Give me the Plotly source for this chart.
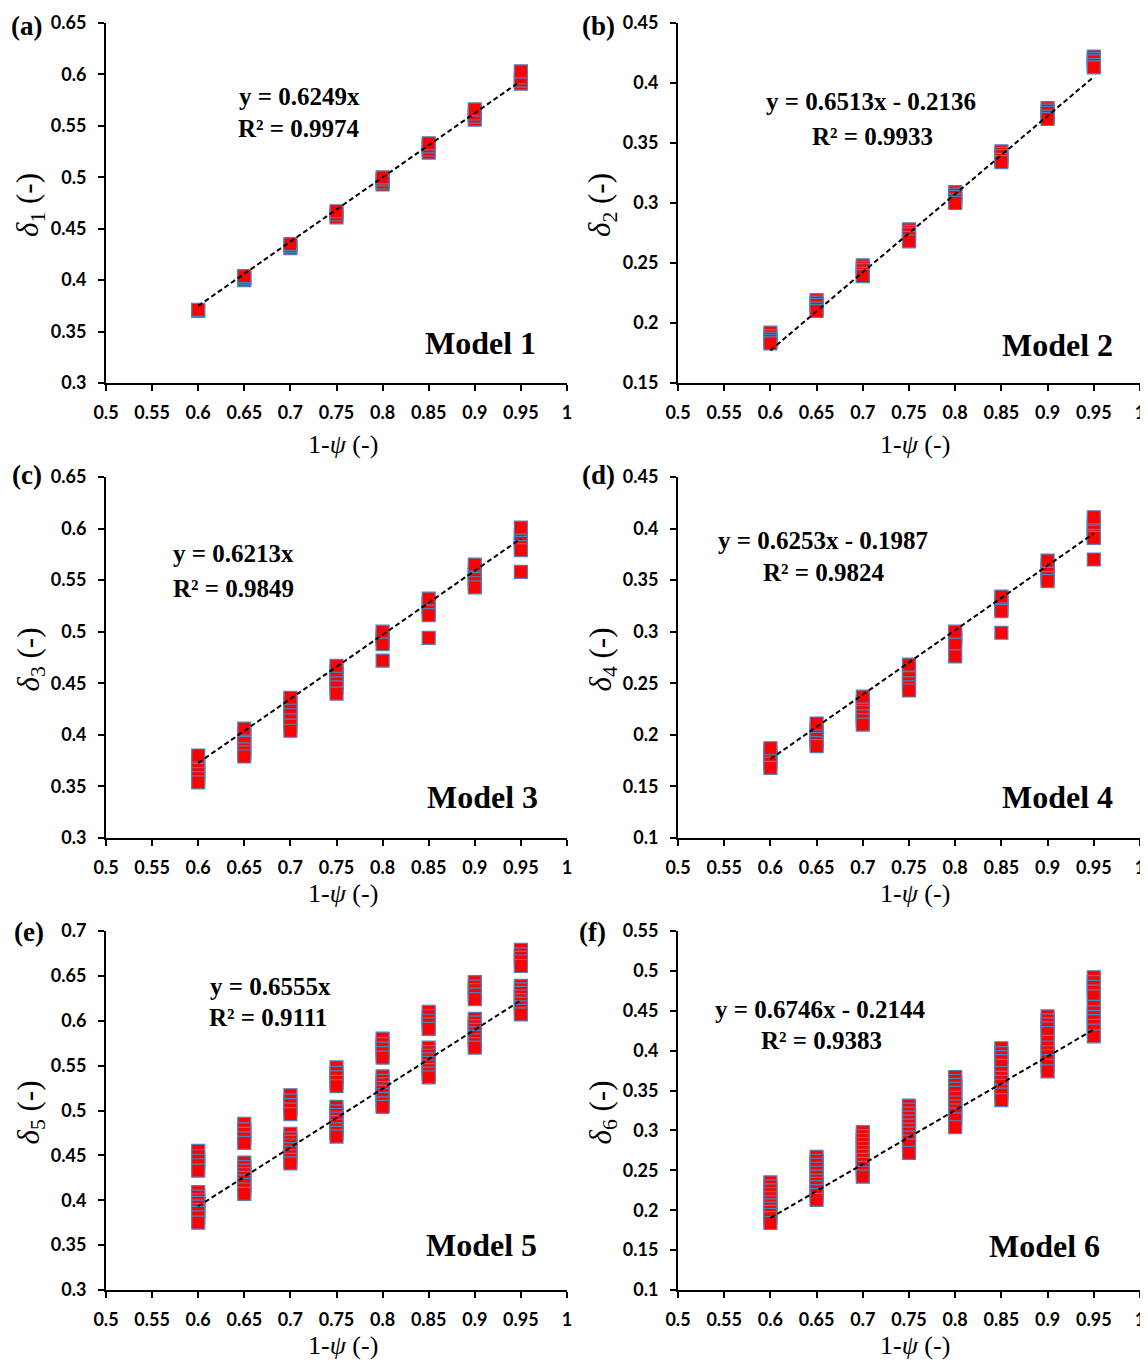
import plotly.graph_objects as go

# page is rendered with an 8px body margin; the figure is sized to fit the window
OFF = 8
W, H = 1148 - OFF, 1363 - OFF

# ---------------- data ----------------
x_levels = [0.6, 0.65, 0.7, 0.75, 0.8, 0.85, 0.9, 0.95]
x_tick_vals = [0.5, 0.55, 0.6, 0.65, 0.7, 0.75, 0.8, 0.85, 0.9, 0.95, 1.0]
x_tick_text = ["0.5", "0.55", "0.6", "0.65", "0.7", "0.75", "0.8", "0.85", "0.9", "0.95", "1"]

# values of delta_i at each x level (drawing order: last one on top)
delta1 = [
    [0.370, 0.371],
    [0.400, 0.402, 0.404],
    [0.431, 0.433, 0.435],
    [0.461, 0.464, 0.467],
    [0.493, 0.495, 0.498, 0.500],
    [0.524, 0.527, 0.530, 0.533],
    [0.556, 0.559, 0.562, 0.566],
    [0.591, 0.594, 0.597, 0.603],
]
delta2 = [
    [0.192, 0.189, 0.187, 0.185, 0.183],
    [0.219, 0.217, 0.215, 0.212, 0.210],
    [0.248, 0.246, 0.244, 0.241, 0.239],
    [0.278, 0.276, 0.274, 0.271, 0.268],
    [0.309, 0.307, 0.305, 0.302, 0.300],
    [0.343, 0.341, 0.339, 0.336, 0.334],
    [0.379, 0.377, 0.375, 0.372, 0.370],
    [0.422, 0.420, 0.418, 0.415, 0.413],
]
delta3 = [
    [0.373, 0.371, 0.366, 0.362, 0.358, 0.354, 0.380],
    [0.401, 0.399, 0.392, 0.386, 0.383, 0.379, 0.406],
    [0.431, 0.428, 0.424, 0.419, 0.414, 0.409, 0.404, 0.436],
    [0.462, 0.459, 0.455, 0.450, 0.446, 0.440, 0.467],
    [0.495, 0.492, 0.488, 0.472, 0.500],
    [0.527, 0.524, 0.520, 0.516, 0.494, 0.532],
    [0.558, 0.555, 0.551, 0.547, 0.543, 0.565],
    [0.594, 0.590, 0.586, 0.582, 0.579, 0.558, 0.601],
]
delta4 = [
    [0.183, 0.178, 0.175, 0.172, 0.168, 0.187],
    [0.205, 0.200, 0.196, 0.192, 0.189, 0.211],
    [0.232, 0.227, 0.222, 0.218, 0.214, 0.210, 0.237],
    [0.263, 0.259, 0.255, 0.250, 0.246, 0.243, 0.268],
    [0.296, 0.292, 0.288, 0.276, 0.300],
    [0.330, 0.326, 0.322, 0.320, 0.299, 0.334],
    [0.364, 0.360, 0.356, 0.352, 0.349, 0.369],
    [0.405, 0.401, 0.397, 0.393, 0.391, 0.370, 0.411],
]
delta5 = [
    [0.455, 0.449, 0.444, 0.439, 0.433, 0.409, 0.404, 0.400, 0.397, 0.393, 0.389, 0.386, 0.381, 0.375],
    [0.485, 0.479, 0.474, 0.469, 0.464, 0.442, 0.437, 0.433, 0.429, 0.425, 0.421, 0.417, 0.412, 0.407],
    [0.517, 0.511, 0.506, 0.501, 0.496, 0.474, 0.469, 0.465, 0.461, 0.457, 0.453, 0.449, 0.445, 0.441],
    [0.548, 0.542, 0.537, 0.532, 0.527, 0.504, 0.499, 0.495, 0.491, 0.487, 0.483, 0.479, 0.475, 0.471],
    [0.580, 0.574, 0.569, 0.564, 0.559, 0.538, 0.533, 0.529, 0.525, 0.521, 0.517, 0.513, 0.508, 0.504],
    [0.610, 0.605, 0.600, 0.596, 0.591, 0.570, 0.565, 0.561, 0.557, 0.553, 0.549, 0.545, 0.541, 0.537],
    [0.643, 0.638, 0.634, 0.629, 0.624, 0.602, 0.598, 0.594, 0.590, 0.586, 0.582, 0.578, 0.574, 0.570],
    [0.679, 0.674, 0.670, 0.666, 0.661, 0.639, 0.635, 0.631, 0.627, 0.623, 0.619, 0.615, 0.611, 0.607],
]
delta6 = [
    [0.235, 0.230, 0.225, 0.220, 0.215, 0.210, 0.206, 0.202, 0.198, 0.194, 0.190, 0.184],
    [0.267, 0.262, 0.257, 0.252, 0.247, 0.242, 0.237, 0.233, 0.229, 0.224, 0.219, 0.213],
    [0.298, 0.293, 0.288, 0.283, 0.278, 0.273, 0.268, 0.263, 0.258, 0.253, 0.247, 0.242],
    [0.331, 0.326, 0.321, 0.316, 0.311, 0.306, 0.301, 0.296, 0.291, 0.286, 0.281, 0.272],
    [0.367, 0.362, 0.357, 0.352, 0.347, 0.341, 0.335, 0.330, 0.325, 0.320, 0.314, 0.304],
    [0.403, 0.397, 0.392, 0.387, 0.381, 0.372, 0.366, 0.361, 0.356, 0.350, 0.345, 0.338],
    [0.443, 0.438, 0.433, 0.428, 0.422, 0.411, 0.404, 0.398, 0.393, 0.387, 0.381, 0.374],
    [0.492, 0.486, 0.480, 0.474, 0.468, 0.455, 0.448, 0.442, 0.437, 0.431, 0.425, 0.418],
]

# trend lines (from the equations printed on the chart)
slopes = [0.6249, 0.6513, 0.6213, 0.6253, 0.6555, 0.6746]
intercepts = [0.0, -0.2136, 0.0, -0.1987, 0.0, -0.2144]
fit_x = [0.6, 0.95]

eq_texts = ["y = 0.6249x", "y = 0.6513x - 0.2136", "y = 0.6213x",
            "y = 0.6253x - 0.1987", "y = 0.6555x", "y = 0.6746x - 0.2144"]
r2_texts = ["R² = 0.9974", "R² = 0.9933", "R² = 0.9849",
            "R² = 0.9824", "R² = 0.9111", "R² = 0.9383"]
model_texts = ["Model 1", "Model 2", "Model 3", "Model 4", "Model 5", "Model 6"]
panel_labels = ["(a)", "(b)", "(c)", "(d)", "(e)", "(f)"]
y_subs = ["1", "2", "3", "4", "5", "6"]

y_ranges = [(0.3, 0.65), (0.15, 0.45), (0.3, 0.65), (0.1, 0.45), (0.3, 0.7), (0.1, 0.55)]
y_tick_vals = [
    [0.3, 0.35, 0.4, 0.45, 0.5, 0.55, 0.6, 0.65],
    [0.15, 0.2, 0.25, 0.3, 0.35, 0.4, 0.45],
    [0.3, 0.35, 0.4, 0.45, 0.5, 0.55, 0.6, 0.65],
    [0.1, 0.15, 0.2, 0.25, 0.3, 0.35, 0.4, 0.45],
    [0.3, 0.35, 0.4, 0.45, 0.5, 0.55, 0.6, 0.65, 0.7],
    [0.1, 0.15, 0.2, 0.25, 0.3, 0.35, 0.4, 0.45, 0.5, 0.55],
]
y_tick_text = [
    ["0.3", "0.35", "0.4", "0.45", "0.5", "0.55", "0.6", "0.65"],
    ["0.15", "0.2", "0.25", "0.3", "0.35", "0.4", "0.45"],
    ["0.3", "0.35", "0.4", "0.45", "0.5", "0.55", "0.6", "0.65"],
    ["0.1", "0.15", "0.2", "0.25", "0.3", "0.35", "0.4", "0.45"],
    ["0.3", "0.35", "0.4", "0.45", "0.5", "0.55", "0.6", "0.65", "0.7"],
    ["0.1", "0.15", "0.2", "0.25", "0.3", "0.35", "0.4", "0.45", "0.5", "0.55"],
]
all_delta = [delta1, delta2, delta3, delta4, delta5, delta6]

# ---------------- layout geometry (screen pixels) ----------------
cols_px = [(106, 567), (678, 1140)]
rows_px = [(23, 383), (477, 838), (931, 1290)]
xtitle_y = [444, 893, 1345]

# text positions (pixel centres) per panel
eq_pos = [(299, 96), (871, 102), (233, 553), (823, 540), (270, 986), (820, 1009)]
r2_pos = [(299, 128), (872, 136), (233, 588), (824, 572), (268, 1017), (821, 1040)]
model_pos = [(480, 343), (1057, 345), (482, 797), (1057, 797), (481, 1245), (1044, 1246)]
label_pos = [(26, 26), (598, 26), (27, 475), (598, 475), (29, 932), (592, 932)]


def fx(p):
    return (p - OFF) / W


def fy_(p):
    return 1 - (p - OFF) / H


fig = go.Figure()
annotations = []
serif = "Liberation Serif"


def add_text(pos, text, size, bold=True, angle=0):
    annotations.append(dict(
        x=fx(pos[0]), y=fy_(pos[1]), xref="paper", yref="paper", text=text,
        showarrow=False, xanchor="center", yanchor="middle", textangle=angle,
        borderpad=0,
        font=dict(family=serif, size=size, color="black",
                  weight="bold" if bold else "normal")))


for i in range(6):
    r, c = divmod(i, 2)
    xa = "x" if i == 0 else f"x{i+1}"
    ya = "y" if i == 0 else f"y{i+1}"
    xs, ys = [], []
    for xv, grp in zip(x_levels, all_delta[i]):
        for v in grp:
            xs.append(xv)
            ys.append(v)
    fig.add_trace(go.Scatter(
        x=xs, y=ys, mode="markers", xaxis=xa, yaxis=ya,
        marker=dict(symbol="square", size=13, color="#FF0000",
                    line=dict(color="#4F81BD", width=1.2)),
        hoverinfo="skip", cliponaxis=False))
    fyv = [slopes[i] * v + intercepts[i] for v in fit_x]
    fig.add_trace(go.Scatter(
        x=fit_x, y=fyv, mode="lines", xaxis=xa, yaxis=ya,
        line=dict(color="black", width=2, dash="5px,3px"),
        hoverinfo="skip"))

    x0, x1 = cols_px[c]
    y0, y1 = rows_px[r]
    axis_common = dict(showline=True, linecolor="black", linewidth=2,
                       ticks="outside", ticklen=6, tickwidth=2, tickcolor="black",
                       showgrid=False, zeroline=False, automargin=False,
                       tickfont=dict(family="Lato", size=18, color="black", weight="bold"))
    xkey = "xaxis" if i == 0 else f"xaxis{i+1}"
    ykey = "yaxis" if i == 0 else f"yaxis{i+1}"
    fig.layout[xkey] = dict(domain=[fx(x0), fx(x1)], range=[0.5, 1.0],
                            tickvals=x_tick_vals, ticktext=x_tick_text,
                            anchor=ya, ticklabelstandoff=6, **axis_common)
    fig.layout[ykey] = dict(domain=[fy_(y1), fy_(y0)], range=list(y_ranges[i]),
                            tickvals=y_tick_vals[i], ticktext=y_tick_text[i],
                            anchor=xa, ticklabelstandoff=8, **axis_common)

    add_text(eq_pos[i], eq_texts[i], 25)
    add_text(r2_pos[i], r2_texts[i], 25)
    add_text(model_pos[i], model_texts[i], 32)
    add_text(label_pos[i], panel_labels[i], 27)
    # axis titles
    xc = (x0 + x1) / 2 + 6
    add_text((xc, xtitle_y[r]), "1-<i>ψ</i> (-)", 26, bold=False)
    add_text((x0 - 76, (y0 + y1) / 2 + 2),
             "<i>δ</i><sub>" + y_subs[i] + "</sub> (-)",
             31, bold=False, angle=-90)

fig.update_layout(width=W, height=H, margin=dict(l=0, r=0, t=0, b=0),
                  plot_bgcolor="white", paper_bgcolor="white", showlegend=False,
                  annotations=annotations)

fig.write_html("out.html")
